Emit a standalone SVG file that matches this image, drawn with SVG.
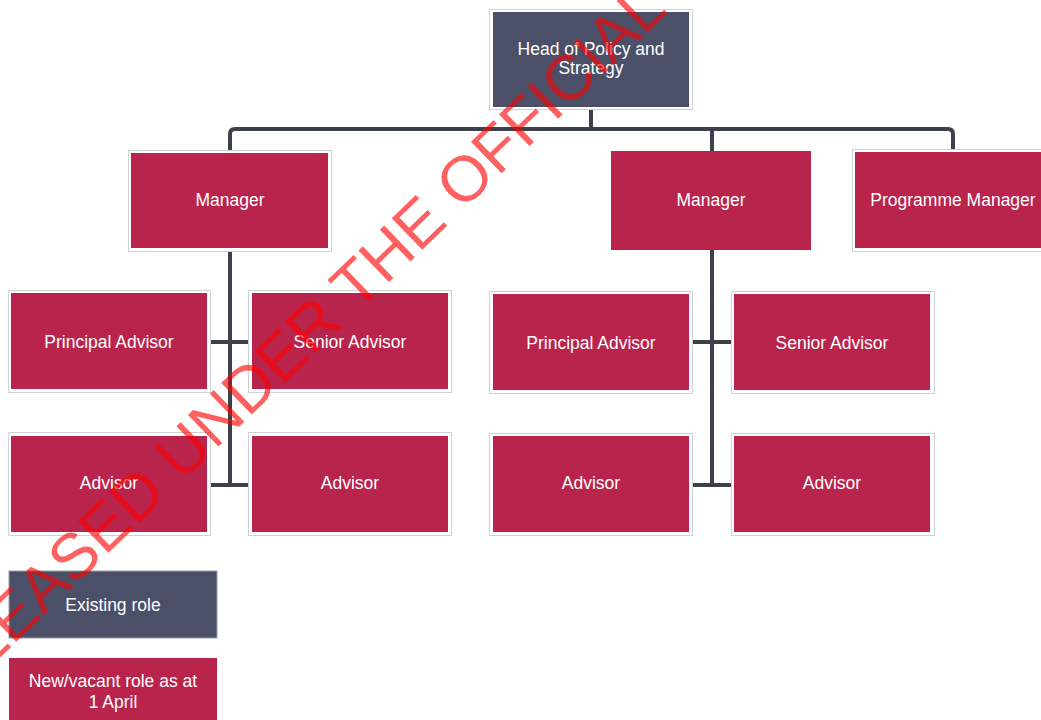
<svg xmlns="http://www.w3.org/2000/svg" width="1041" height="720" viewBox="0 0 1041 720">
  <style>
    .frame { fill: #ffffff; stroke: #cfd2d4; stroke-width: 1; }
    .existing { fill: #4b5068; }
    .vacant { fill: #b8244b; }
    .label { font-family: "Liberation Sans", Arial, sans-serif; font-size: 17.5px; fill: #ffffff; text-anchor: middle; }
    .link { fill: none; stroke: #3c414c; stroke-width: 4; stroke-linecap: butt; }
    .stamp { font-family: "Liberation Sans", Arial, sans-serif; font-size: 64px; fill: #ff0000; fill-opacity: 0.62; }
  </style>

  <rect x="0" y="0" width="1041" height="720" fill="#ffffff"/>

  <!-- reporting lines -->
  <g id="connectors">
    <path class="link" d="M591,109 V129"/>
    <path class="link" d="M230,150 V134 Q230,129 235,129 H948 Q953,129 953,134 V149"/>
    <path class="link" d="M712,129 V151"/>
    <path class="link" d="M230,251 V485"/>
    <path class="link" d="M209,342 H250"/>
    <path class="link" d="M209,485 H250"/>
    <path class="link" d="M712,250 V485"/>
    <path class="link" d="M691,342 H732"/>
    <path class="link" d="M691,485 H732"/>
  </g>

  <!-- roles -->
  <g id="head">
    <rect class="frame" x="489.5" y="9.5" width="203" height="100"/>
    <rect class="existing" x="493" y="12" width="196" height="95"/>
    <text class="label" x="591" y="55">Head of Policy and</text>
    <text class="label" x="591" y="74">Strategy</text>
  </g>

  <g id="manager-left">
    <rect class="frame" x="128.5" y="150.5" width="203" height="101"/>
    <rect class="vacant" x="131" y="153" width="197" height="95"/>
    <text class="label" x="230" y="206">Manager</text>
  </g>

  <g id="manager-right">
    <rect class="vacant" x="611" y="151" width="200" height="99"/>
    <text class="label" x="711" y="206">Manager</text>
  </g>

  <g id="programme-manager">
    <rect class="frame" x="852.5" y="149.5" width="200" height="102"/>
    <rect class="vacant" x="855" y="152" width="200" height="96"/>
    <text class="label" x="953" y="206">Programme Manager</text>
  </g>

  <g id="principal-advisor-left">
    <rect class="frame" x="8.5" y="290.5" width="202" height="102"/>
    <rect class="vacant" x="11" y="293" width="196" height="96"/>
    <text class="label" x="109" y="348">Principal Advisor</text>
  </g>

  <g id="senior-advisor-left">
    <rect class="frame" x="248.5" y="290.5" width="203" height="102"/>
    <rect class="vacant" x="252" y="293" width="196" height="96"/>
    <text class="label" x="350" y="348">Senior Advisor</text>
  </g>

  <g id="advisor-left-1">
    <rect class="frame" x="8.5" y="432.5" width="202" height="103"/>
    <rect class="vacant" x="11" y="436" width="196" height="96"/>
    <text class="label" x="109" y="489">Advisor</text>
  </g>

  <g id="advisor-left-2">
    <rect class="frame" x="248.5" y="432.5" width="203" height="103"/>
    <rect class="vacant" x="252" y="436" width="196" height="96"/>
    <text class="label" x="350" y="489">Advisor</text>
  </g>

  <g id="principal-advisor-right">
    <rect class="frame" x="489.5" y="291.5" width="203" height="102"/>
    <rect class="vacant" x="493" y="294" width="196" height="96"/>
    <text class="label" x="591" y="349">Principal Advisor</text>
  </g>

  <g id="senior-advisor-right">
    <rect class="frame" x="731.5" y="291.5" width="203" height="102"/>
    <rect class="vacant" x="734" y="294" width="196" height="96"/>
    <text class="label" x="832" y="349">Senior Advisor</text>
  </g>

  <g id="advisor-right-1">
    <rect class="frame" x="489.5" y="433.5" width="203" height="102"/>
    <rect class="vacant" x="493" y="436" width="196" height="96"/>
    <text class="label" x="591" y="489">Advisor</text>
  </g>

  <g id="advisor-right-2">
    <rect class="frame" x="731.5" y="433.5" width="203" height="102"/>
    <rect class="vacant" x="734" y="436" width="196" height="96"/>
    <text class="label" x="832" y="489">Advisor</text>
  </g>

  <!-- key -->
  <g id="key-existing">
    <rect class="existing" x="9" y="571" width="208" height="67" stroke="#9a9ea6" stroke-width="1"/>
    <text class="label" x="113" y="611">Existing role</text>
  </g>

  <g id="key-vacant">
    <rect class="vacant" x="9" y="658" width="208" height="64"/>
    <text class="label" x="113" y="687">New/vacant role as at</text>
    <text class="label" x="113" y="708">1 April</text>
  </g>

  <!-- release stamp -->
  <text class="stamp" transform="translate(-77,732) rotate(-44)" x="0" y="0">RELEASED UNDER THE OFFICIAL</text>
</svg>
